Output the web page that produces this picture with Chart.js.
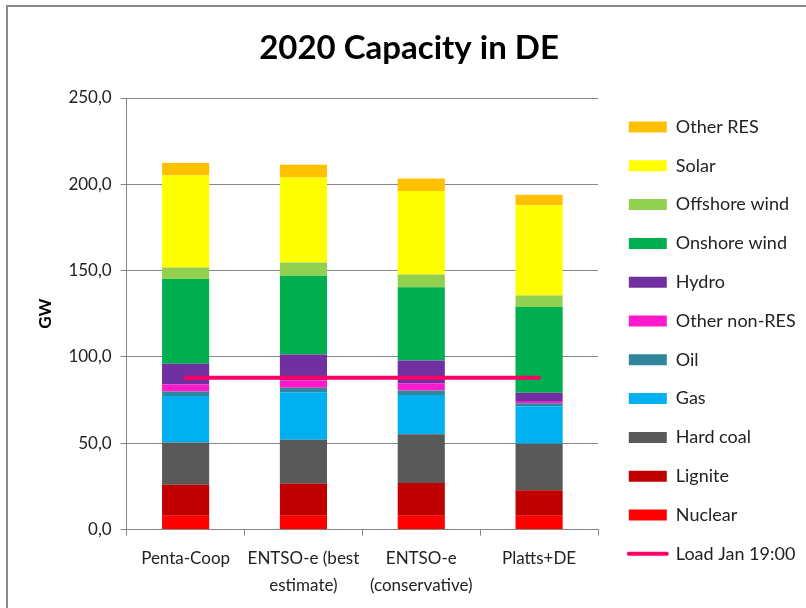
<!DOCTYPE html>
<html>
<head>
<meta charset="utf-8">
<title>2020 Capacity in DE</title>
<script src="https://cdn.jsdelivr.net/npm/chart.js@4"></script>
<style>
  body { margin: 0; background: #fff; }
  #wrap { position: relative; width: 806px; height: 608px; overflow: hidden; }
  #frame { position: absolute; left: 6px; top: 5px; width: 820px; height: 620px;
           border-left: 2px solid #898989; border-top: 2px solid #898989; }
  #capChart { position: absolute; left: 0; top: 0; }
</style>
</head>
<body>
<div id="wrap">
  <div id="frame"></div>
  <canvas id="capChart" width="806" height="608"></canvas>
</div>
<script>
// sources compared
const sources = ['Penta-Coop', ['ENTSO-e (best', 'estimate)'], ['ENTSO-e', '(conservative)'], 'Platts+DE'];

// installed capacity per technology, GW (bottom of the stack first)
const nuclear     = [8.0, 8.0, 8.0, 8.0];
const lignite     = [18.0, 18.5, 19.0, 14.8];
const hardCoal    = [24.4, 25.6, 28.2, 27.0];
const gas         = [27.0, 27.5, 22.8, 21.7];
const oil         = [2.6, 2.5, 2.5, 1.7];
const otherNonRes = [4.0, 4.2, 4.3, 1.3];
const hydro       = [12.0, 15.1, 13.1, 4.7];
const onshoreWind = [49.2, 45.6, 42.5, 49.8];
const offshoreWind= [6.6, 7.7, 7.3, 6.6];
const solar       = [53.3, 49.2, 48.5, 52.3];
const otherRes    = [7.3, 7.4, 7.2, 6.0];

// peak load, January 19:00
const loadJan = [88, 88, 88, 88];

const yTicks = [0, 50, 100, 150, 200, 250];

const barSeries = [
  ['Nuclear', nuclear, '#FF0000'],
  ['Lignite', lignite, '#C00000'],
  ['Hard coal', hardCoal, '#595959'],
  ['Gas', gas, '#00B0F0'],
  ['Oil', oil, '#31859C'],
  ['Other non-RES', otherNonRes, '#FF19CC'],
  ['Hydro', hydro, '#7030A0'],
  ['Onshore wind', onshoreWind, '#00B050'],
  ['Offshore wind', offshoreWind, '#92D050'],
  ['Solar', solar, '#FFFF00'],
  ['Other RES', otherRes, '#FFC000']
];

const datasets = barSeries.map(([label, data, color]) => ({
  type: 'bar',
  label: label,
  data: data,
  backgroundColor: color,
  borderWidth: 0,
  barPercentage: 0.4,
  categoryPercentage: 1.0,
  order: 1
}));

datasets.push({
  type: 'line',
  label: 'Load Jan 19:00',
  data: loadJan,
  borderColor: '#FF0066',
  backgroundColor: '#FF0066',
  borderWidth: 4,
  borderCapStyle: 'round',
  pointRadius: 0,
  stack: 'load',
  order: 0
});

Chart.defaults.font.family = 'Lato, "Open Sans", sans-serif';
Chart.defaults.color = '#222';

// nudge the legend a bit away from the plot
const legendShift = {
  id: 'legendShift',
  afterLayout(chart) {
    if (chart.legend) {
      chart.legend.left += 10;
      chart.legend.right += 10;
    }
  }
};

const ctx = document.getElementById('capChart').getContext('2d');
new Chart(ctx, {
  data: { labels: sources, datasets: datasets },
  plugins: [legendShift],
  options: {
    responsive: false,
    animation: false,
    layout: { padding: { left: 31, right: 19, top: 0, bottom: 0 } },
    plugins: {
      title: {
        display: true,
        text: '2020 Capacity in DE',
        color: '#000',
        font: { size: 33, weight: 'bold' },
        padding: { top: 29, bottom: 29.4 }
      },
      legend: {
        position: 'right',
        // empty title only pushes the entries down
        title: { display: true, text: '', padding: 29.2 },
        labels: {
          font: { size: 18 },
          padding: 20.8,
          usePointStyle: true,
          pointStyle: 'rect',
          pointStyleWidth: 38,
          boxHeight: 11,
          color: '#222',
          generateLabels(chart) {
            const items = Chart.defaults.plugins.legend.labels.generateLabels(chart);
            items.forEach(item => {
              const ds = chart.data.datasets[item.datasetIndex];
              if (ds.type === 'line') {
                item.pointStyle = 'line';
                item.strokeStyle = ds.borderColor;
                item.lineWidth = 4;
                item.lineCap = 'round';
              } else {
                item.pointStyle = 'rect';
                item.fillStyle = ds.backgroundColor;
                item.lineWidth = 0;
              }
            });
            return items;
          },
          // stacked bars listed top-down, load line last
          sort(a, b) {
            const la = a.datasetIndex === barSeries.length;
            const lb = b.datasetIndex === barSeries.length;
            if (la !== lb) return la ? 1 : -1;
            return b.datasetIndex - a.datasetIndex;
          }
        }
      },
      tooltip: { enabled: false }
    },
    scales: {
      x: {
        stacked: true,
        offset: true,
        grid: {
          display: true,
          offset: true,
          drawOnChartArea: false,
          tickLength: 6,
          color: '#868686'
        },
        border: { color: '#868686' },
        ticks: {
          font: { size: 17, lineHeight: 1.6 },
          padding: 9,
          maxRotation: 0,
          autoSkip: false,
          color: '#222'
        }
      },
      y: {
        stacked: true,
        min: yTicks[0],
        max: yTicks[yTicks.length - 1],
        afterBuildTicks(scale) {
          scale.ticks = yTicks.map(v => ({ value: v }));
        },
        grid: { color: '#868686', tickLength: 6 },
        border: { color: '#868686' },
        ticks: {
          font: { size: 17 },
          padding: 9,
          color: '#222',
          callback: v => v.toFixed(1).replace('.', ',')
        },
        title: {
          display: true,
          text: 'GW',
          color: '#000',
          font: { size: 17, weight: 'bold' },
          padding: { top: 4, bottom: 4 }
        }
      }
    }
  }
});
</script>
</body>
</html>
